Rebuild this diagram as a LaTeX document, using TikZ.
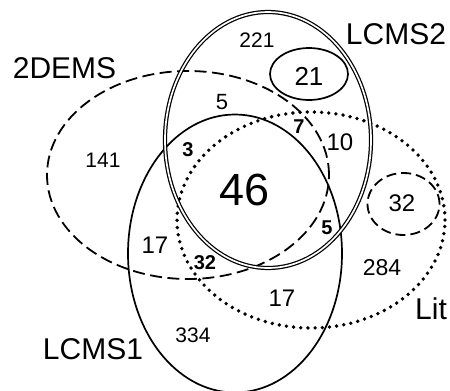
\documentclass[tikz,border=0pt]{standalone}
\usepackage{fontspec}
\setmainfont{Liberation Sans}
\begin{document}
\begin{tikzpicture}[x=1pt,y=-1pt,
  setline/.style={line width=1.7pt},
  dashset/.style={line width=1.8pt, dash pattern=on 12pt off 5.5pt},
  dotset/.style={line width=3.8pt, line cap=round, dash pattern=on 0pt off 7.2pt},
  twoline/.style={double, double distance=1.7pt, line width=1.25pt},
  setname/.style={inner sep=0pt, font=\fontsize{30}{32}\selectfont},
  num/.style={inner sep=0pt, font=\fontsize{#1}{#1}\selectfont},
  bnum/.style={inner sep=0pt, font=\fontsize{20}{20}\selectfont\bfseries}]
\useasboundingbox (0,0) rectangle (450,391);

% LCMS1 (solid)
\draw[setline] (235,253.5) ellipse [x radius=107pt, y radius=139pt];
% 2DEMS (dashed)
\draw[dashset] (188,175) ellipse [x radius=141pt, y radius=104pt];
% Lit (dotted)
\draw[dotset] (311,220) ellipse [x radius=134pt, y radius=108pt];
% LCMS2 (double line)
\draw[twoline] (268,140) ellipse [x radius=103pt, y radius=128pt];
% subsets
\draw[setline] (309,74) ellipse [x radius=39pt, y radius=26pt];
\draw[dashset, dash pattern=on 10pt off 5pt] (403.5,204) ellipse [x radius=36pt, y radius=31pt];

% set names
\node[setname] (nLCMS2) at (396,34) {LCMS2};
\node[setname] (n2DEMS) at (64.5,68) {2DEMS};
\node[setname] (nLCMS1) at (93,349) {LCMS1};
\node[setname] (nLit) at (431,309) {Lit};

% region counts
\node[num=21] (c221) at (257,40) {221};
\node[num=26] (c21) at (309,76) {21};
\node[num=22] (c5a) at (222,102) {5};
\node[bnum] (c7) at (299,127) {7};
\node[num=24] (c10) at (340,142) {10};
\node[num=21] (c141) at (103,160) {141};
\node[bnum] (c3) at (188,150) {3};
\node[num=45] (c46) at (245,190) {46};
\node[bnum] (c5b) at (327,228) {5};
\node[num=24] (c32a) at (402,203) {32};
\node[num=24] (c17a) at (155,245) {17};
\node[bnum] (c32b) at (205,263) {32};
\node[num=23] (c284) at (382,268) {284};
\node[num=24] (c17b) at (282,298) {17};
\node[num=21] (c334) at (193,335) {334};
\end{tikzpicture}
\end{document}
